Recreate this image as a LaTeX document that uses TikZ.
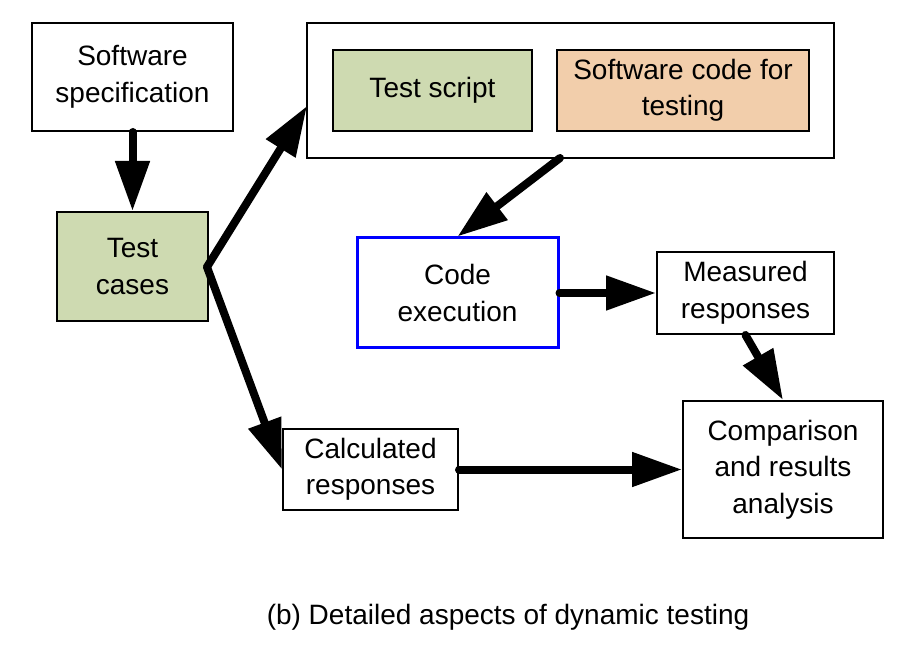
\documentclass[tikz,border=0pt]{standalone}
\usepackage{fontspec}
\setmainfont{Liberation Sans}
\usetikzlibrary{arrows.meta}
\definecolor{boxgreen}{RGB}{206,218,177}
\definecolor{boxorange}{RGB}{242,206,171}
\tikzset{
  txt/.style={font=\fontsize{28}{36.5}\selectfont, align=center},
  box/.style={txt, draw=black, line width=2pt, rectangle, inner sep=0pt},
  flow/.style={line width=8pt, line cap=round, -{Triangle[length=50pt,width=33pt]}},
}
\begin{document}
\begin{tikzpicture}[x=1pt,y=-1pt]
\useasboundingbox (0,0) rectangle (916,652);
% nodes
\node[box, minimum width=201pt, minimum height=108pt] (spec) at (132.5,77) {Software\\specification};
\node[box, fill=boxgreen, minimum width=151pt, minimum height=109pt] (test) at (132.5,266.5) {Test\\cases};
\node[box, minimum width=527pt, minimum height=135pt] (big) at (570.5,90.5) {};
\node[box, fill=boxgreen, minimum width=199pt, minimum height=81pt] (script) at (432.5,90.5) {Test script};
\node[box, fill=boxorange, minimum width=252pt, minimum height=81pt] (code) at (683,90.5) {Software code for\\testing};
\node[box, draw=blue, line width=3pt, minimum width=201pt, minimum height=110pt] (exec) at (457.5,293) {Code\\execution};
\node[box, minimum width=177pt, minimum height=82pt] (meas) at (745.5,293) {Measured\\responses};
\node[box, minimum width=175pt, minimum height=81pt] (calc) at (370.5,469.5) {Calculated\\responses};
\node[box, minimum width=200pt, minimum height=137pt] (comp) at (783,469.5) {Comparison\\and results\\analysis};
\node[txt] (caption) at (508,617) {(b) Detailed aspects of dynamic testing};
% connector end points on the big box
\coordinate (bigin) at (307,106);
\coordinate (bigout) at (560,158);
\coordinate (testout) at (207,267);
% connectors
\draw[flow] (spec.south) -- (test.north);
\draw[flow] (testout) -- (bigin);
\draw[flow] (testout) -- (calc.west);
\draw[flow] (bigout) -- (exec.north);
\draw[flow] (exec.east) -- (meas.west);
\draw[flow] (meas.south) -- (comp.north);
\draw[flow] (calc.east) -- (comp.west);
\end{tikzpicture}
\end{document}
